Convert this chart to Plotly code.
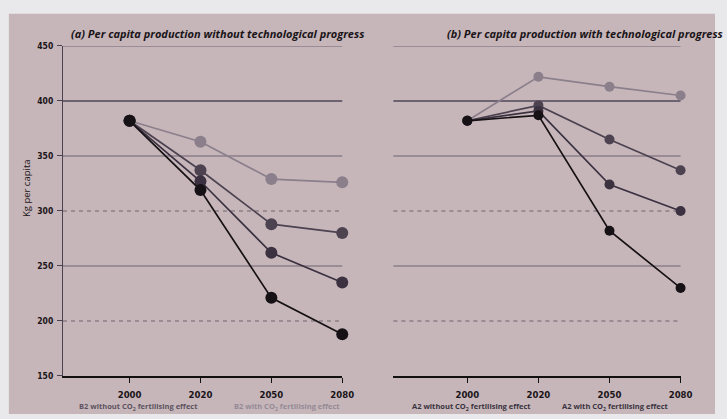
import plotly.graph_objects as go

# Scenario years (category axis) and per-capita production, kg
years = ["2000", "2020", "2050", "2080"]

# (a) without technological progress
a_light = [382, 363, 329, 326]
a_mid = [382, 337, 288, 280]
a_dark = [382, 327, 262, 235]
a_black = [382, 319, 221, 188]

# (b) with technological progress
b_light = [382, 422, 413, 405]
b_mid = [382, 396, 365, 337]
b_dark = [382, 391, 324, 300]
b_black = [382, 387, 282, 230]

y_ticks = [150, 200, 250, 300, 350, 400, 450]
solid_grid = [350, 400, 450, 250]
dashed_grid = [300, 200]

titles = ["(a) Per capita production without technological progress",
          "(b) Per capita production with technological progress"]
legend_texts = ["B2 without CO<sub>2</sub> fertilising effect",
                "B2 with CO<sub>2</sub> fertilising effect",
                "A2 without CO<sub>2</sub> fertilising effect",
                "A2 with CO<sub>2</sub> fertilising effect"]

W, H = 727, 419
px = lambda v: v / W
py = lambda v: 1 - v / H

colors = ["#8b7f8c", "#4c4250", "#3b3140", "#161115"]
narrow = "Liberation Sans Narrow, DejaVu Sans Condensed, Arial Narrow, sans-serif"
x_tick_font = dict(family=narrow, size=9.5, color="#1a1418", weight="bold")
y_tick_font = dict(family=narrow, size=8.5, color="#1a1418", weight="bold")
xpos = list(range(len(years)))

fig = go.Figure()

panels = [
    ("x", "y", [a_light, a_mid, a_dark, a_black], 12),
    ("x2", "y2", [b_light, b_mid, b_dark, b_black], 10),
]
for xa, ya, series, msize in panels:
    for vals, col in zip(series, colors):
        fig.add_trace(go.Scatter(
            x=xpos, y=vals, xaxis=xa, yaxis=ya, mode="lines+markers",
            line=dict(color=col, width=1.7),
            marker=dict(color=col, size=msize),
            cliponaxis=False, showlegend=False, hoverinfo="skip"))

y_dom = [1 - 380 / H, 1 - 42 / H]
xaxis_common = dict(
    tickmode="array", tickvals=xpos, ticktext=years, showgrid=False,
    zeroline=False, showline=True, linecolor="#111", linewidth=1.6,
    ticks="outside", ticklen=5, tickcolor="#111", tickwidth=1.2,
    tickfont=x_tick_font, ticklabelstandoff=4)

fig.update_layout(
    width=W, height=H, margin=dict(l=0, r=0, t=0, b=0),
    paper_bgcolor="#e9e9eb", plot_bgcolor="rgba(0,0,0,0)",
    xaxis=dict(domain=[px(64), px(348)], range=[-0.94, 3], anchor="y", **xaxis_common),
    xaxis2=dict(domain=[px(400), px(692)], range=[-1.04, 3], anchor="y2", **xaxis_common),
    yaxis=dict(domain=y_dom, range=[150, 450], anchor="x", tickmode="array",
               tickvals=y_ticks, showgrid=False, zeroline=False, showline=True,
               linecolor="#4a4250", linewidth=1, ticks="outside", ticklen=5,
               tickcolor="#4a4250", tickfont=y_tick_font, ticklabelstandoff=2),
    yaxis2=dict(domain=y_dom, range=[150, 450], anchor="x2", showgrid=False,
                zeroline=False, showline=False, showticklabels=False, ticks=""),
)

shapes = [dict(type="rect", xref="paper", yref="paper", x0=px(9), x1=1,
               y0=0, y1=py(9), fillcolor="#c6b6b9", line=dict(width=0), layer="below")]
for xr, yr in [("x domain", "y"), ("x2 domain", "y2")]:
    for g in solid_grid:
        shapes.append(dict(type="line", xref=xr, yref=yr, x0=0, x1=1, y0=g, y1=g,
                           line=dict(color="#6c6270", width=2.2 if g == 400 else 1.1),
                           layer="below"))
    for g in dashed_grid:
        shapes.append(dict(type="line", xref=xr, yref=yr, x0=0, x1=1, y0=g, y1=g,
                           line=dict(color="#6c6270", width=1.1, dash="4px,4px"),
                           layer="below"))
fig.update_layout(shapes=shapes)

title_font = dict(family="Open Sans, sans-serif", size=11, color="#1a1418")
annotations = [
    dict(text="<b><i>" + titles[0] + "</i></b>", x=px(70), y=py(29), xref="paper", yref="paper",
         xanchor="left", yanchor="middle", showarrow=False, font=title_font),
    dict(text="<b><i>" + titles[1] + "</i></b>", x=px(452), y=py(29), xref="paper", yref="paper",
         xanchor="left", yanchor="middle", showarrow=False, font=title_font),
    dict(text="Kg per capita", x=px(27), y=py(188), xref="paper", yref="paper",
         textangle=-90, showarrow=False, xanchor="center", yanchor="middle",
         font=dict(family="Open Sans, sans-serif", size=9.5, color="#1a1418")),
]
legend_x = [141, 292, 479, 625]
legend_colors = ["#5c5260", "#958a96", "#3a3240", "#3a3240"]
for t, xc, c in zip(legend_texts, legend_x, legend_colors):
    annotations.append(dict(text="<b>" + t + "</b>", x=px(xc), y=py(412), xref="paper",
                            yref="paper", xanchor="center", yanchor="middle", showarrow=False,
                            font=dict(family="Open Sans, sans-serif", size=7.5, color=c)))
fig.update_layout(annotations=annotations)

fig.write_html("out.html")
